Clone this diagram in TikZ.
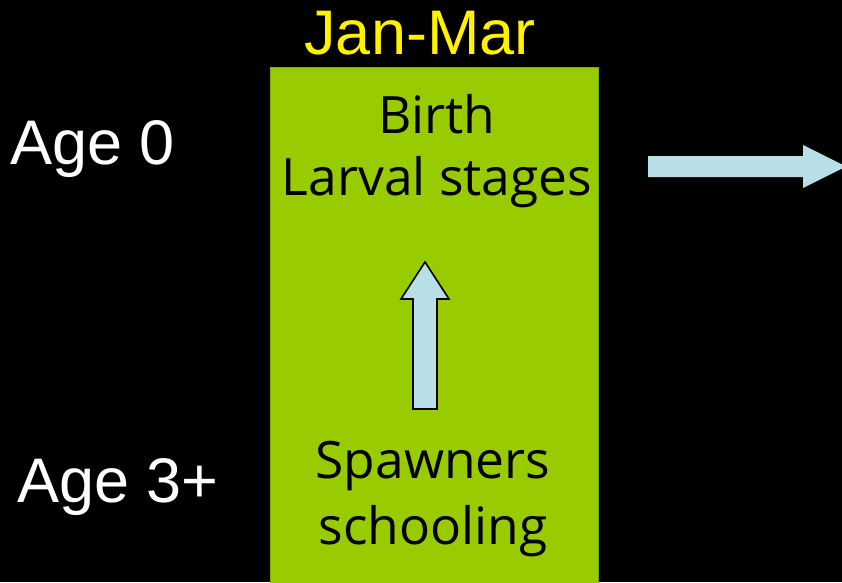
\documentclass[tikz,border=0pt]{standalone}
\usepackage{fontspec}
\setmainfont{Liberation Sans}
\newfontfamily\innerfont{Open Sans}
\definecolor{boxgreen}{HTML}{99CC00}
\definecolor{boxedge}{HTML}{80AA00}
\definecolor{arrowblue}{HTML}{B7DFE5}
\begin{document}
\begin{tikzpicture}[x=1pt,y=-1pt,
  agelabel/.style={text=white,font=\fontsize{63}{70}\selectfont,anchor=base west,inner sep=0pt},
  titlelabel/.style={text=yellow,font=\fontsize{63}{70}\selectfont,anchor=base,inner sep=0pt},
  innertext/.style={text=black,font=\innerfont\fontsize{51.5}{56}\selectfont,anchor=base,inner sep=0pt},
  fatarrow/.style={fill=arrowblue},
  outlined/.style={draw=black,line width=1.6pt,line join=miter}]
\fill[black] (0,0) rectangle (842,582);
\useasboundingbox (0,0) rectangle (842,582);
% season box
\path[fill=boxgreen,draw=boxedge,line width=0.8pt] (270,67) rectangle (598,590);
\node[titlelabel] (title) at (420,54) {Jan-Mar};
\node[agelabel] (age0) at (10,164) {Age 0};
\node[agelabel] (age3) at (17,502) {Age 3+};
\node[innertext] (birth) at (437,133) {Birth};
\node[innertext] (larval) at (437,195) {Larval stages};
\node[innertext] (spawn) at (433,478) {Spawners};
\node[innertext] (school) at (433,544) {schooling};
% arrows
\path[fatarrow,outlined] (413,409) -- (437,409) -- (437,299) -- (449,299) -- (425,262) -- (401,299) -- (413,299) -- cycle;
\path[fatarrow] (648,156) -- (803,156) -- (803,145) -- (846,166.5) -- (803,188) -- (803,177) -- (648,177) -- cycle;
\end{tikzpicture}
\end{document}
